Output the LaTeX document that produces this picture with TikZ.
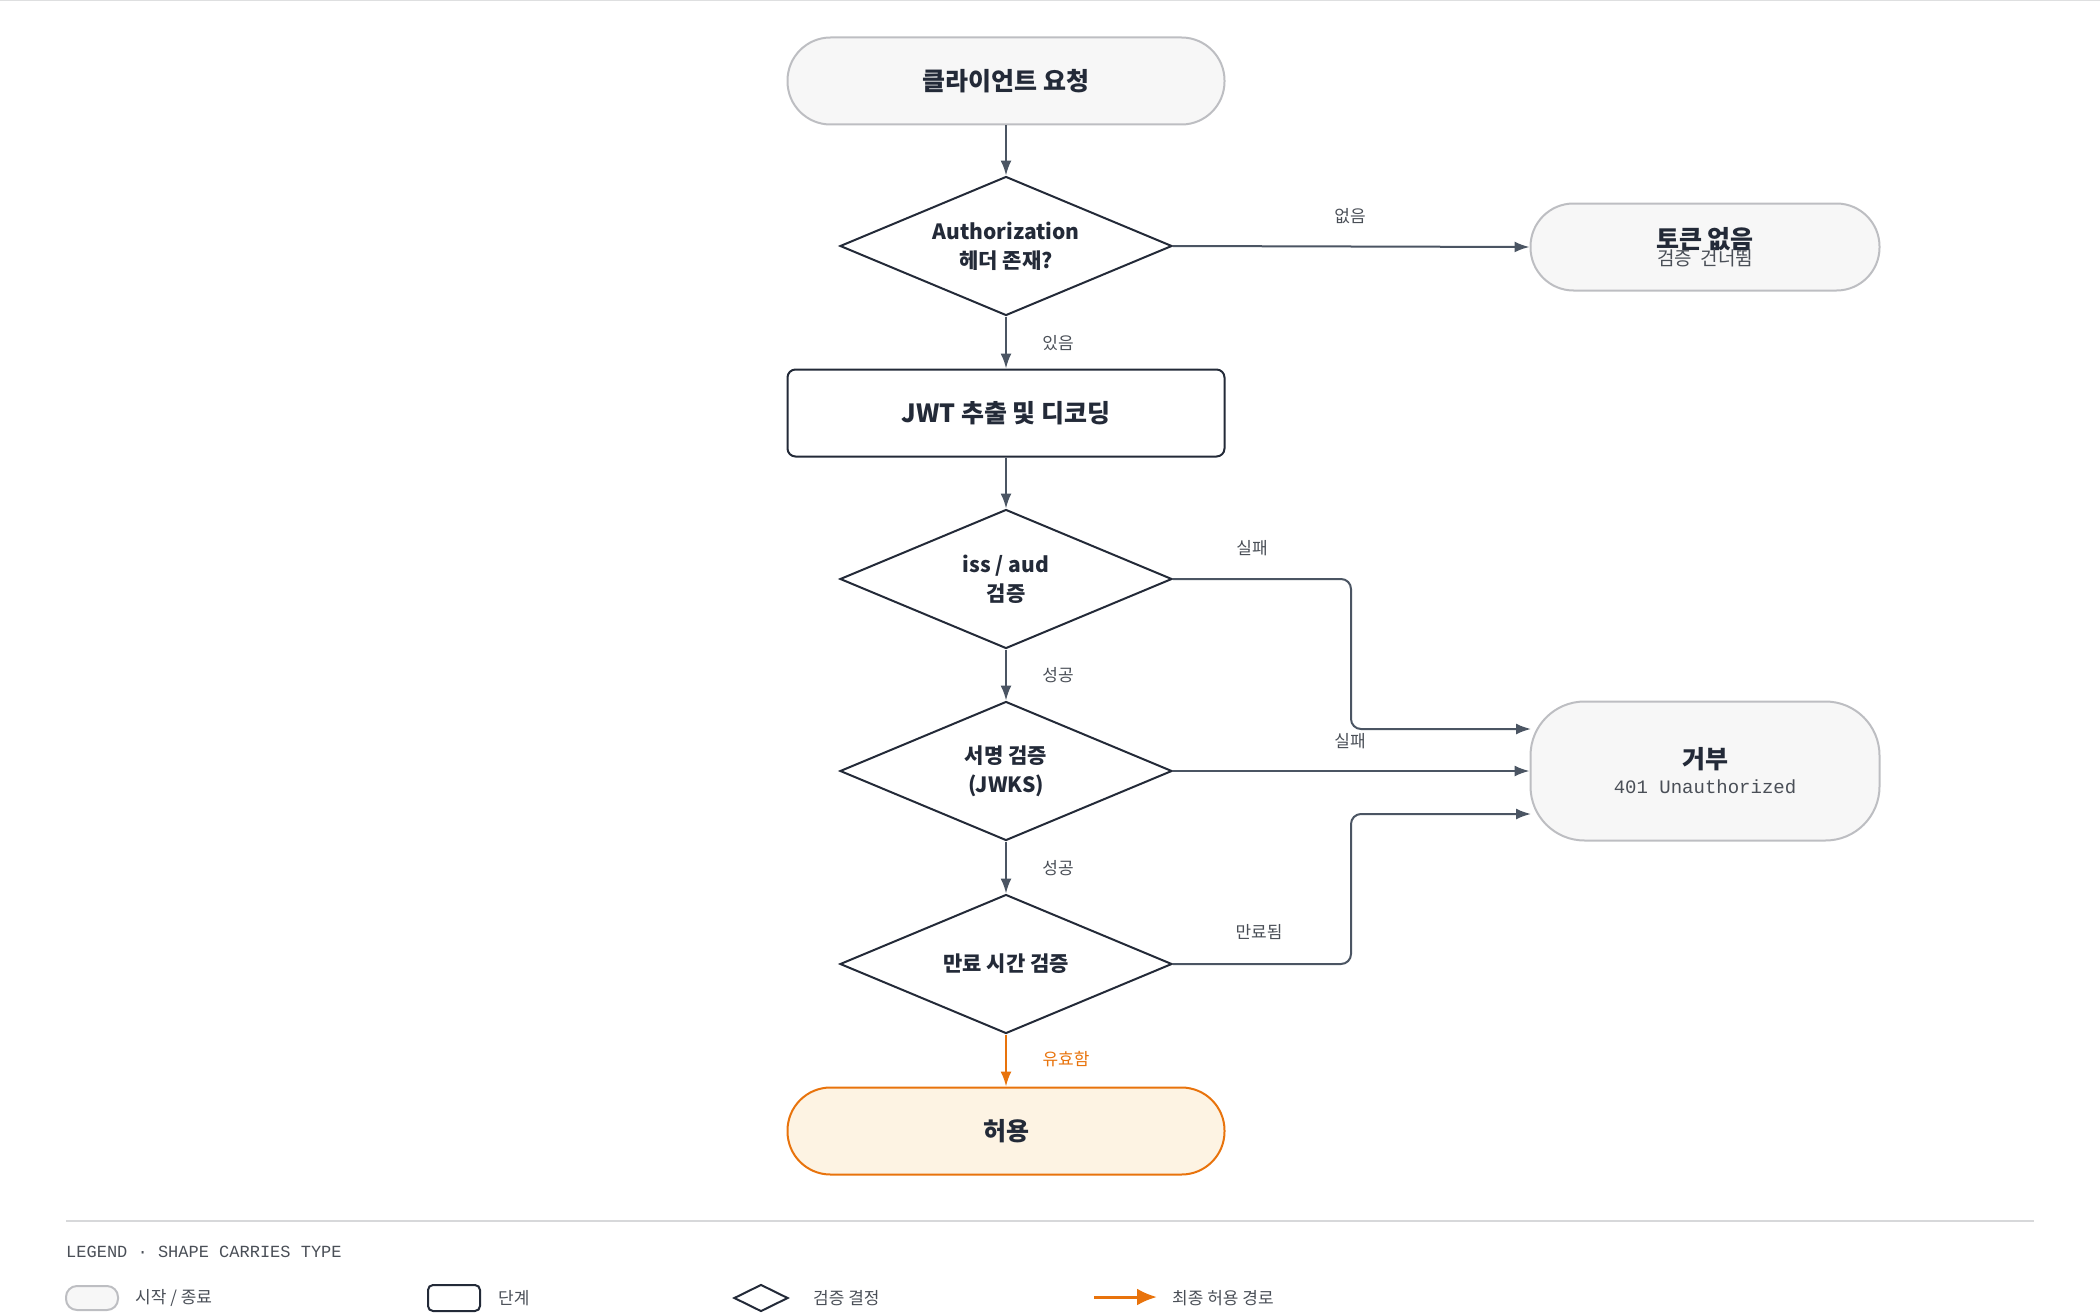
\documentclass[tikz,border=0pt]{standalone}
\usepackage{fontspec}
\setmainfont{Noto Sans CJK KR}
\setmonofont{Liberation Mono}
\usetikzlibrary{shapes.geometric,arrows.meta}
\definecolor{ink}{HTML}{232A38}
\definecolor{arr}{HTML}{4B5563}
\definecolor{pillb}{HTML}{BDBEC2}
\definecolor{pillf}{HTML}{F7F7F7}
\definecolor{org}{HTML}{E8730C}
\definecolor{orgf}{HTML}{FDF3E3}
\definecolor{lab}{HTML}{4A4F57}
\begin{document}
\begin{tikzpicture}[x=1pt,y=-1pt,
 pill/.style={draw=pillb,line width=2pt,fill=pillf,rounded corners=43pt,minimum width=437pt,minimum height=87pt,align=center,text=ink},
 box/.style={draw=ink,line width=2pt,fill=white,rounded corners=8pt,minimum width=437pt,minimum height=87pt,text=ink,font=\fontsize{25}{30}\selectfont\bfseries},
 dia/.style={diamond,draw=ink,line width=2pt,fill=white,aspect=2.39,minimum width=332pt,minimum height=139pt,inner sep=0pt,align=center,text=ink,font=\fontsize{21}{29}\selectfont\bfseries},
 ttl/.style={font=\fontsize{25}{30}\selectfont\bfseries},
 ar/.style={draw=arr,line width=2pt,-{Latex[length=15pt,width=11pt]},rounded corners=10pt},
 el/.style={font=\fontsize{17}{20}\selectfont,text=lab}]
\useasboundingbox (0,0) rectangle (2100,1316);
\draw[pillb!50,line width=1pt] (0,1) -- (2100,1);
\node[pill,font=\fontsize{25}{30}\selectfont\bfseries] (start) at (1006,81) {클라이언트 요청};
\node[dia] (d1) at (1006,246) {Authorization\\헤더 존재?};
\node[pill,minimum width=349pt] (none) at (1705,247) {{\fontsize{25}{30}\selectfont\bfseries 토큰 없음}\\[-2pt]{\fontsize{19}{24}\selectfont\color{lab}검증\ \ 건너뜀}};
\node[box] (jwt) at (1006,413) {JWT 추출 및 디코딩};
\node[dia] (d2) at (1006,579) {iss / aud\\검증};
\node[dia] (d3) at (1006,771) {서명 검증\\(JWKS)};
\node[dia] (d4) at (1006,964) {만료 시간 검증};
\node[pill,draw=org,fill=orgf,font=\fontsize{25}{30}\selectfont\bfseries] (allow) at (1006,1131) {허용};
\node[pill,rounded corners=54pt,minimum width=349pt,minimum height=139pt] (deny) at (1705,771) {{\fontsize{25}{30}\selectfont\bfseries 거부}\\[8pt]{\fontsize{19}{24}\selectfont\ttfamily\color{lab}401 Unauthorized}};
\coordinate (t1) at (1531,729);
\coordinate (t3) at (1531,814);
\draw[ar] (start) -- (d1);
\draw[ar] (d1.east) -- (none.west);
\draw[ar] (d1) -- (jwt);
\draw[ar] (jwt) -- (d2);
\draw[ar] (d2) -- (d3);
\draw[ar] (d3) -- (d4);
\draw[ar] (d2.east) -- (1351,579) -- (1351,729) -- (t1);
\draw[ar] (d3.east) -- (deny.west);
\draw[ar] (d4.east) -- (1351,964) -- (1351,814) -- (t3);
\draw[ar,draw=org] (d4) -- (allow);
\node[el] at (1350,216) {없음};
\node[el] at (1058,343) {있음};
\node[el] at (1252,548) {실패};
\node[el] at (1058,675) {성공};
\node[el] at (1350,741) {실패};
\node[el] at (1058,868) {성공};
\node[el] at (1259,932) {만료됨};
\node[el,text=org] at (1066,1059) {유효함};
% legend
\draw[pillb!60,line width=1.5pt] (66,1221) -- (2034,1221);
\node[anchor=west,inner sep=0,font=\fontsize{17}{20}\selectfont\ttfamily,text=lab] (lt) at (66,1252) {LEGEND · SHAPE CARRIES TYPE};
\node[draw=pillb,line width=2pt,fill=pillf,rounded corners=11pt,minimum width=52pt,minimum height=24pt,inner sep=0] (l1) at (92,1298) {};
\node[anchor=west,inner sep=0,el] (l1t) at (135,1298) {시작 / 종료};
\node[draw=ink,line width=2pt,rounded corners=5pt,minimum width=52pt,minimum height=26pt,inner sep=0] (l2) at (454,1298) {};
\node[anchor=west,inner sep=0,el] (l2t) at (498,1298) {단계};
\node[diamond,draw=ink,line width=2pt,aspect=2,minimum width=54pt,minimum height=27pt,inner sep=0] (l3) at (761,1298) {};
\node[anchor=west,inner sep=0,el] (l3t) at (813,1298) {검증 결정};
\coordinate (l4a) at (1094,1297);
\coordinate (l4b) at (1157,1297);
\draw[line width=3pt,draw=org,-{Latex[length=20pt,width=17pt]}] (l4a) -- (l4b);
\node[anchor=west,inner sep=0,el] (l4t) at (1172,1298) {최종 허용 경로};
\end{tikzpicture}
\end{document}
